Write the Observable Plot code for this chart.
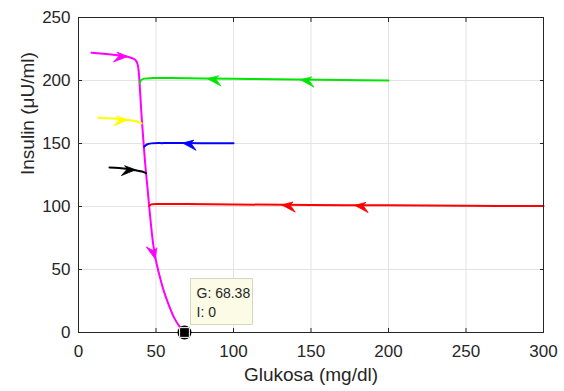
<!DOCTYPE html>
<html>
<head>
<meta charset="utf-8">
<script src="https://cdn.jsdelivr.net/npm/d3@7"></script>
<script src="https://cdn.jsdelivr.net/npm/@observablehq/plot@0.6"></script>
<style>
  html, body { margin: 0; padding: 0; background: #fff; }
</style>
</head>
<body>
<div id="chart"></div>
<script>
// ---- data ----
const xTicks = [0, 50, 100, 150, 200, 250, 300];
const yTicks = [0, 50, 100, 150, 200, 250];
const xLabel = "Glukosa (mg/dl)";
const yLabel = "Insulin (\u03bcU/ml)";

const magentaG = [8.4, 12, 18, 25, 31, 35, 37.2, 38.3, 39, 39.8, 40.8, 42, 43.3, 44.5, 45.6, 46.8, 48.2, 50, 52.3, 55, 58.2, 61.6, 65, 68.38];
const magentaI = [222, 221.6, 221, 220, 219, 217.5, 215.5, 212, 205, 190, 170, 150, 130, 115, 100, 85, 70, 57, 45, 33, 22, 12, 5, 0];
const greenG = [200, 170, 140, 110, 80, 60, 48, 42.5, 40.5, 39.5];
const greenI = [200, 200.4, 200.8, 201.2, 201.6, 201.9, 201.9, 201.5, 200.5, 198];
const yellowG = [12.7, 20, 27, 33, 37, 40.8];
const yellowI = [170.4, 170, 169.3, 168.5, 167.6, 166];
const blueG = [100, 85, 70, 55, 47, 44, 42.3];
const blueI = [150.2, 150.2, 150.3, 150.3, 150.1, 149.2, 147.5];
const blackG = [20, 26, 32, 37, 41, 43.6];
const blackI = [131, 130.5, 129.7, 128.7, 127.8, 126.5];
const redG = [300, 250, 200, 150, 100, 70, 52, 47, 45.6];
const redI = [100.3, 100.6, 100.9, 101.2, 101.6, 101.9, 102, 101.7, 100.5];

const seriesNames = ["magenta", "green", "yellow", "blue", "black", "red"];
const seriesColors = ["#ff00ff", "#00e600", "#ffff00", "#0000ff", "#000000", "#ff0000"];

// arrowheads: position and direction of travel (data units)
const arrowSeries = ["magenta", "magenta", "green", "green", "yellow", "blue", "black", "red", "red"];
const arrowG  = [27, 48.9, 148, 88, 27, 72, 32, 136, 183];
const arrowI  = [219.8, 64, 200.5, 201.4, 169.2, 150.3, 129.7, 101.2, 100.9];
const arrowDG = [1, 0.12, -1, -1, 1, -1, 1, -1, -1];
const arrowDI = [-0.15, -1, 0.01, 0.01, -0.1, 0, -0.12, 0.005, 0.005];

// data tip
const tipG = 68.38;
const tipI = 0;
const tipText = "G: 68.38\nI: 0";

// ---- build ----
const W = 564, H = 391;
const mL = 78, mR = 21, mT = 17, mB = 59;
const kx = (W - mL - mR) / (xTicks[xTicks.length - 1] - xTicks[0]);
const ky = (H - mT - mB) / (yTicks[yTicks.length - 1] - yTicks[0]);

const colorOf = Object.fromEntries(seriesNames.map((n, i) => [n, seriesColors[i]]));
const seriesData = {
  magenta: [magentaG, magentaI], green: [greenG, greenI], yellow: [yellowG, yellowI],
  blue: [blueG, blueI], black: [blackG, blackI], red: [redG, redI]
};
const lines = [];
for (const name of seriesNames) {
  const [gs, is] = seriesData[name];
  gs.forEach((g, i) => lines.push({series: name, g, i: is[i]}));
}

const arrows = arrowG.map((g, k) => {
  const rot = Math.atan2(arrowDG[k] * kx, arrowDI[k] * ky) * 180 / Math.PI;
  return {series: arrowSeries[k], g, i: arrowI[k], rot, left: arrowDG[k] < 0};
});

// barbed arrowhead pointing "up"; big barb on one side
function makeHead(side) {
  return {
    draw(context, size) {
      const r = Math.sqrt(size / Math.PI);
      context.moveTo(0, -r);
      context.lineTo(side * 0.95 * r, 0.8 * r);
      context.lineTo(0, 0.1 * r);
      context.lineTo(-side * 0.4 * r, 0.5 * r);
      context.closePath();
    }
  };
}
const headA = makeHead(-1);
const headB = makeHead(1);

// data-tip box, offset from the tip point (pixels)
const tipBox = {
  draw(context) {
    context.rect(6, -54, 62, 46);
  }
};

const tipDatum = [{g: tipG, i: tipI, label: tipText}];

const chart = Plot.plot({
  width: W, height: H,
  marginLeft: mL, marginRight: mR, marginTop: mT, marginBottom: mB,
  style: {fontFamily: "'Liberation Sans', Arial, sans-serif", fontSize: "17px", color: "#262626", background: "#fff"},
  x: {domain: [xTicks[0], xTicks[xTicks.length - 1]], ticks: xTicks},
  y: {domain: [yTicks[0], yTicks[yTicks.length - 1]], ticks: yTicks},
  marks: [
    Plot.gridX(xTicks, {stroke: "#e3e3e3", strokeOpacity: 1}),
    Plot.gridY(yTicks, {stroke: "#e3e3e3", strokeOpacity: 1}),
    Plot.axisX(xTicks, {anchor: "bottom", tickSize: 0, tickPadding: 12, label: null, fontSize: 17}),
    Plot.axisY(yTicks, {anchor: "left", tickSize: 0, tickPadding: 8, label: null, fontSize: 17}),
    Plot.axisX(xTicks, {anchor: "bottom", tickSize: -4, text: null, label: null}),
    Plot.axisX(xTicks, {anchor: "top", tickSize: -4, text: null, label: null}),
    Plot.axisY(yTicks, {anchor: "left", tickSize: -4, text: null, label: null}),
    Plot.axisY(yTicks, {anchor: "right", tickSize: -4, text: null, label: null}),
    Plot.line(lines, {x: "g", y: "i", z: "series", stroke: d => colorOf[d.series], strokeWidth: 2, curve: "catmull-rom"}),
    Plot.dot(arrows.filter(d => d.left), {x: "g", y: "i", r: 7.5, rotate: "rot", symbol: headA, fill: d => colorOf[d.series], stroke: d => colorOf[d.series], strokeWidth: 0.8}),
    Plot.dot(arrows.filter(d => !d.left), {x: "g", y: "i", r: 7.5, rotate: "rot", symbol: headB, fill: d => colorOf[d.series], stroke: d => colorOf[d.series], strokeWidth: 0.8}),
    Plot.frame({stroke: "#262626", strokeWidth: 1}),
    Plot.dot(tipDatum, {x: "g", y: "i", r: 7, fill: "#000", symbol: "circle"}),
    Plot.dot(tipDatum, {x: "g", y: "i", r: 5.5, fill: "#000", stroke: "#fff", strokeWidth: 1, symbol: "square"}),
    Plot.dot(tipDatum, {x: "g", y: "i", symbol: tipBox, fill: "#fbfbe6", stroke: "#d6d6c4", strokeWidth: 1}),
    Plot.text(tipDatum, {x: "g", y: "i", text: "label", dx: 12, dy: -48, textAnchor: "start", lineAnchor: "top", lineHeight: 1.35, fontSize: 14, fill: "#262626"}),
    Plot.text([xLabel], {frameAnchor: "bottom", dy: 48, text: d => d, fontSize: 19, fill: "#262626"}),
    Plot.text([yLabel], {frameAnchor: "left", dx: -51, rotate: -90, text: d => d, fontSize: 19, fill: "#262626"})
  ]
});
document.getElementById("chart").appendChild(chart);
</script>
</body>
</html>
